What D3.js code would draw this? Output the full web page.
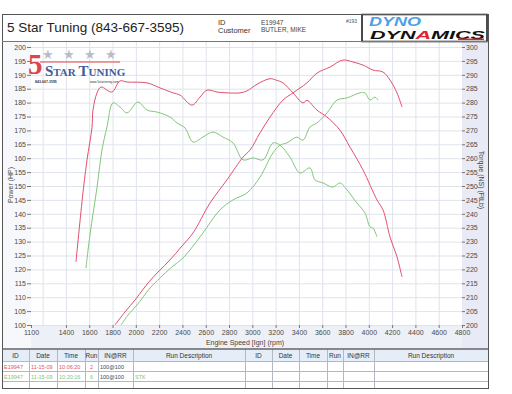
<!DOCTYPE html>
<html>
<head>
<meta charset="utf-8">
<script src="https://cdn.jsdelivr.net/npm/d3@7"></script>
<style>
  html, body { margin: 0; padding: 0; background: #fff; }
  svg { display: block; font-family: 'Liberation Sans', Arial, sans-serif; }
</style>
</head>
<body>
<svg class="canvas" width="512" height="394"></svg>
<script>
'use strict';

// Run 2 (tuned, red) and run 6 (STK, green) as [rpm, value].
const run2Torque = [
  [1486, 222.7], [1546, 247.5], [1581, 259.4], [1624, 271.2], [1632, 277.3],
  [1667, 283.5], [1701, 285.6], [1795, 283.8], [1864, 287.8], [1924, 287.4],
  [2096, 287.1], [2207, 285.3], [2319, 283.5], [2379, 282.7], [2482, 279.1],
  [2551, 282.0], [2611, 284.5], [2697, 283.8], [2783, 283.5], [2894, 283.5],
  [2954, 284.2], [3040, 286.6], [3152, 288.6], [3210, 288.0], [3263, 287.1],
  [3349, 283.5], [3435, 279.9], [3469, 280.8], [3555, 277.3], [3641, 274.8],
  [3752, 270.1], [3838, 264.0], [3950, 255.8], [4070, 245.0], [4122, 241.4],
  [4182, 231.7], [4242, 224.5], [4285, 217.3]
];
const run2Power = [
  [1821, 100.0], [1907, 104.7], [2001, 109.4], [2104, 115.1], [2199, 119.4],
  [2293, 123.4], [2396, 128.4], [2491, 133.1], [2637, 143.9], [2782, 152.2],
  [2920, 160.4], [2980, 162.9], [3066, 169.1], [3152, 174.8], [3263, 180.9],
  [3349, 183.5], [3469, 187.1], [3555, 190.6], [3667, 192.8], [3778, 195.3],
  [3864, 194.6], [3950, 193.5], [4036, 191.7], [4122, 191.0], [4182, 188.1],
  [4242, 183.5], [4285, 178.4]
];
const run6Torque = [
  [1572, 220.5], [1606, 232.4], [1667, 249.6], [1709, 262.9], [1752, 271.2],
  [1804, 279.9], [1864, 278.4], [1924, 276.3], [2018, 280.2], [2096, 277.3],
  [2182, 276.6], [2293, 274.8], [2353, 272.7], [2422, 270.9], [2491, 265.8],
  [2576, 267.6], [2662, 269.4], [2748, 267.6], [2834, 265.5], [2920, 259.4],
  [3006, 260.1], [3092, 259.4], [3177, 265.5], [3237, 264.7], [3323, 260.4],
  [3409, 254.7], [3495, 256.5], [3538, 252.2], [3607, 251.1], [3692, 249.6],
  [3752, 251.1], [3813, 248.6], [3898, 243.9], [3967, 240.3], [4010, 235.3],
  [4036, 234.9], [4070, 231.7]
];
const run6Power = [
  [1873, 100.0], [1933, 103.6], [2010, 107.2], [2122, 113.3], [2207, 116.9],
  [2310, 120.9], [2405, 124.1], [2491, 128.4], [2576, 133.1], [2722, 141.4],
  [2834, 145.0], [2954, 147.5], [3066, 153.2], [3177, 161.9], [3237, 164.7],
  [3297, 165.5], [3383, 167.6], [3435, 166.5], [3495, 171.2], [3555, 172.7],
  [3641, 176.3], [3727, 180.9], [3813, 181.7], [3924, 183.5], [3967, 183.5],
  [4010, 180.9], [4053, 182.0], [4079, 180.9]
];

const rpmTicks = [1100, 1400, 1600, 1800, 2000, 2200, 2400, 2600, 2800, 3000,
  3200, 3400, 3600, 3800, 4000, 4200, 4400, 4600, 4800];
const rpmGrid = d3.range(1200, 4800, 200);
const powerTicks = d3.range(100, 201, 5);
const torqueTicks = d3.range(200, 301, 5);

const tableHead = ['ID', 'Date', 'Time', 'Run', 'IN@RR', 'Run Description'];
const tableRows = [
  ['E19947', '11-15-09', '10:06:20', '2', '100@100', ''],
  ['E19947', '11-15-09', '10:20:16', '6', '100@100', 'STK']
];

const red = '#e2506c',
  green = '#82c678';

const frame = { left: 2, right: 488, top: 14, head: 41, table: 349, bottom: 388 };
const plot = { left: 31, right: 462, top: 47, bottom: 325 };

const xScale = d3.scaleLinear([1100, 4800], [plot.left, plot.right]),
  yPower = d3.scaleLinear([100, 200], [plot.bottom, plot.top]),
  yTorque = d3.scaleLinear([200, 300], [plot.bottom, plot.top]);

const svg = d3.select('.canvas');

// Backgrounds.
svg.append('rect').attr('x', frame.left).attr('y', frame.head)
  .attr('width', frame.right - frame.left).attr('height', frame.table - frame.head)
  .attr('fill', '#f7f8fb');
svg.append('rect').attr('x', plot.left).attr('y', plot.bottom)
  .attr('width', frame.right - plot.left).attr('height', frame.table - plot.bottom)
  .attr('fill', '#eef0f7');
svg.append('rect').attr('x', plot.right).attr('y', frame.head)
  .attr('width', frame.right - plot.right).attr('height', frame.table - frame.head)
  .attr('fill', '#e8eaf5');
svg.append('rect').attr('x', plot.left).attr('y', frame.head)
  .attr('width', plot.right - plot.left).attr('height', plot.bottom - frame.head)
  .attr('fill', '#fff');

// Grid.
svg.append('g').selectAll('line').data(powerTicks).join('line')
  .attr('x1', plot.left).attr('x2', plot.right)
  .attr('y1', d => yPower(d) + 0.5).attr('y2', d => yPower(d) + 0.5)
  .attr('stroke', '#dfe3ec').attr('stroke-width', 1);
svg.append('g').selectAll('line').data(rpmGrid).join('line')
  .attr('x1', d => xScale(d) + 0.5).attr('x2', d => xScale(d) + 0.5)
  .attr('y1', frame.head).attr('y2', plot.bottom)
  .attr('stroke', '#dfe3ec').attr('stroke-width', 1);

// Axes.
const leftAxis = d3.axisLeft(yPower).tickValues(powerTicks).tickSize(4).tickPadding(1);
const rightAxis = d3.axisRight(yTorque).tickValues(torqueTicks).tickSize(3).tickPadding(1);
const bottomAxis = d3.axisBottom(xScale).tickValues(rpmTicks).tickSize(3).tickPadding(2)
  .tickFormat(d3.format('d'));

function styleAxis(g) {
  g.select('.domain').remove();
  g.selectAll('line').attr('stroke', '#777');
  g.selectAll('text').attr('fill', '#4a4a4a').attr('font-size', 7);
}
svg.append('g').attr('transform', `translate(${plot.left},0)`).call(leftAxis).call(styleAxis);
svg.append('g').attr('transform', `translate(${plot.right},0)`).call(rightAxis).call(styleAxis);
svg.append('g').attr('transform', `translate(0,${plot.bottom})`).call(bottomAxis).call(styleAxis);

svg.append('text').attr('transform', 'translate(13,185) rotate(-90)')
  .attr('text-anchor', 'middle').attr('font-size', 7).attr('fill', '#444')
  .text('Power (HP)');
svg.append('text').attr('transform', 'translate(479,180) rotate(90)')
  .attr('text-anchor', 'middle').attr('font-size', 7).attr('fill', '#444')
  .text('Torque (NS) (FtLb)');
svg.append('text').attr('x', 245).attr('y', 345)
  .attr('text-anchor', 'middle').attr('font-size', 7).attr('fill', '#444')
  .text('Engine Speed [Ign] (rpm)');

// 5 Star Tuning watermark.
const wm = svg.append('g');
wm.append('line').attr('x1', 40).attr('x2', 120).attr('y1', 62).attr('y2', 62)
  .attr('stroke', '#d9474a').attr('stroke-width', 1);
wm.selectAll('text.star').data([48, 69, 90, 111]).join('text')
  .attr('class', 'star').attr('x', d => d).attr('y', 59)
  .attr('text-anchor', 'middle').attr('font-size', 13).attr('fill', '#b8bcc8')
  .text('\u2605');
wm.append('text').attr('x', 28).attr('y', 74)
  .attr('font-family', 'Liberation Serif, serif').attr('font-weight', 'bold')
  .attr('font-size', 29).attr('fill', '#d9474a').text('5');
wm.append('text').attr('x', 45).attr('y', 76)
  .attr('font-family', 'Liberation Serif, serif').attr('font-weight', 'bold')
  .attr('fill', '#3f5d9e').attr('font-size', 11)
  .call(t => {
    t.append('tspan').attr('font-size', 15).text('S');
    t.append('tspan').text('TAR ');
    t.append('tspan').attr('font-size', 15).text('T');
    t.append('tspan').text('UNING');
  });
wm.append('text').attr('x', 35).attr('y', 83).attr('font-size', 3.5)
  .attr('font-weight', 'bold').attr('fill', '#333').text('843-667-3595');
wm.append('text').attr('x', 90).attr('y', 83).attr('font-size', 3)
  .attr('fill', '#333').text('www.5startuning.com');

// Curves.
svg.append('clipPath').attr('id', 'plot-clip')
  .append('rect').attr('x', plot.left).attr('y', frame.head)
  .attr('width', plot.right - plot.left).attr('height', plot.bottom - frame.head);

const torqueLine = d3.line().x(d => xScale(d[0])).y(d => yTorque(d[1]))
  .curve(d3.curveCatmullRom);
const powerLine = d3.line().x(d => xScale(d[0])).y(d => yPower(d[1]))
  .curve(d3.curveCatmullRom);

const curves = svg.append('g').attr('clip-path', 'url(#plot-clip)')
  .attr('fill', 'none').attr('stroke-width', 1);
curves.append('path').attr('d', torqueLine(run6Torque)).attr('stroke', green);
curves.append('path').attr('d', powerLine(run6Power)).attr('stroke', green);
curves.append('path').attr('d', torqueLine(run2Torque)).attr('stroke', red);
curves.append('path').attr('d', powerLine(run2Power)).attr('stroke', red);

// Header.
svg.append('text').attr('x', 7).attr('y', 32).attr('font-size', 13.5)
  .attr('fill', '#222').text('5 Star Tuning (843-667-3595)');
svg.append('text').attr('x', 218).attr('y', 25).attr('font-size', 7.5)
  .attr('fill', '#333').text('ID');
svg.append('text').attr('x', 218).attr('y', 33).attr('font-size', 7.5)
  .attr('fill', '#333').text('Customer');
svg.append('text').attr('x', 261).attr('y', 25).attr('font-size', 6.5)
  .attr('fill', '#444').text('E19947');
svg.append('text').attr('x', 261).attr('y', 32).attr('font-size', 6.5)
  .attr('fill', '#444').text('BUTLER, MIKE');
svg.append('text').attr('x', 346).attr('y', 23).attr('font-size', 5)
  .attr('fill', '#555').text('#193');

// Dyno Dynamics logo.
const logo = svg.append('g');
logo.append('rect').attr('x', 362).attr('y', 14.5).attr('width', 125).attr('height', 27)
  .attr('fill', '#fff').attr('stroke', '#111').attr('stroke-width', 1.5);
logo.append('text').attr('x', 369).attr('y', 26).attr('font-size', 12)
  .attr('font-weight', 'bold').attr('font-style', 'italic').attr('fill', '#4d9fe6')
  .attr('textLength', 52).attr('lengthAdjust', 'spacingAndGlyphs').text('DYNO');
logo.append('text').attr('x', 370).attr('y', 39).attr('font-size', 11.5)
  .attr('font-weight', 'bold').attr('font-style', 'italic').attr('fill', '#111')
  .attr('textLength', 115).attr('lengthAdjust', 'spacingAndGlyphs')
  .call(t => {
    t.append('tspan').text('DYN');
    t.append('tspan').attr('fill', '#d9262e').text('A');
    t.append('tspan').text('MICS');
  });
logo.append('rect').attr('x', 458).attr('y', 38.5).attr('width', 26).attr('height', 1.5)
  .attr('fill', '#d9262e');

// Table.
const colEdges = [frame.left, 29, 57, 85, 98, 133, 245, 272, 299, 327, 343, 374, frame.right];
const rowEdges = [frame.table, 361, 371, 381, frame.bottom];

svg.append('rect').attr('x', frame.left).attr('y', rowEdges[0])
  .attr('width', frame.right - frame.left).attr('height', rowEdges[1] - rowEdges[0])
  .attr('fill', '#e5eef8');
svg.append('g').selectAll('line').data(colEdges.slice(1, -1)).join('line')
  .attr('x1', d => d + 0.5).attr('x2', d => d + 0.5)
  .attr('y1', rowEdges[0]).attr('y2', frame.bottom)
  .attr('stroke', '#b4b8c2');
svg.append('g').selectAll('line').data(rowEdges.slice(1, -1)).join('line')
  .attr('x1', frame.left).attr('x2', frame.right)
  .attr('y1', d => d + 0.5).attr('y2', d => d + 0.5)
  .attr('stroke', '#b4b8c2');

const headCells = tableHead.concat(tableHead);
svg.append('g').selectAll('text').data(headCells).join('text')
  .attr('x', (d, i) => (colEdges[i] + colEdges[i + 1]) / 2)
  .attr('y', 358).attr('text-anchor', 'middle')
  .attr('font-size', 6.5).attr('fill', '#333').text(d => d);

const rowColors = [red, green];
tableRows.forEach((row, r) => {
  svg.append('g').selectAll('text').data(row).join('text')
    .attr('x', (d, i) => (i === 3 ? (colEdges[i] + colEdges[i + 1]) / 2 : colEdges[i] + 2))
    .attr('y', rowEdges[r + 1] + 7.5)
    .attr('text-anchor', (d, i) => (i === 3 ? 'middle' : 'start'))
    .attr('font-size', 5.5)
    .attr('fill', (d, i) => (i === 4 ? '#444' : rowColors[r]))
    .text(d => d);
});

// Frame lines.
svg.append('rect').attr('x', frame.left + 0.5).attr('y', frame.top + 0.5)
  .attr('width', frame.right - frame.left).attr('height', frame.bottom - frame.top)
  .attr('fill', 'none').attr('stroke', '#555');
svg.append('line').attr('x1', frame.left).attr('x2', frame.right)
  .attr('y1', frame.head + 0.5).attr('y2', frame.head + 0.5).attr('stroke', '#777');
svg.append('line').attr('x1', frame.left).attr('x2', frame.right)
  .attr('y1', frame.table).attr('y2', frame.table).attr('stroke', '#666')
  .attr('stroke-width', 1.5);
</script>
</body>
</html>
